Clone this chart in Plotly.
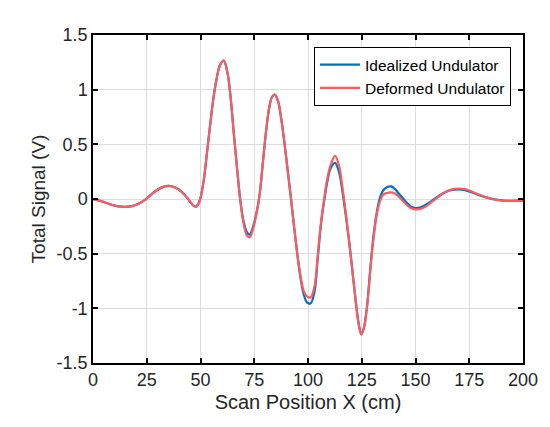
import plotly.graph_objects as go

# scan positions (cm)
scan_x = [0, 3, 6, 9, 12, 15, 18, 21, 24, 27, 30, 33, 35, 37, 40, 43, 45, 47, 48, 49,
          50, 51.5, 53, 54.5, 56, 57.5, 59, 60.8, 62.5, 64, 65.5, 67, 68.5, 70, 71.5, 72.9,
          74.5, 76, 77.5, 79, 80.5, 82, 83.3, 84.5, 86, 87.5, 89, 90.5, 92, 93.5, 95, 96.5,
          98, 99.5, 101.2, 103, 104.5, 106, 107.5, 109, 110.5, 112.6, 114.5, 116, 117.5, 119,
          120.5, 122, 123.5, 124.8, 126, 127.5, 129, 130.5, 132, 133.3, 135, 136.8, 138.7,
          140.5, 142, 144, 146, 148, 150, 152, 155, 158, 161, 164, 167, 170, 173, 176, 179,
          182, 185, 188, 191, 194, 197, 200]

# total signal (V)
idealized = [0.0, -0.015, -0.035, -0.055, -0.068, -0.072, -0.065, -0.045, -0.01, 0.04,
             0.085, 0.113, 0.12, 0.115, 0.085, 0.03, -0.02, -0.065, -0.068, -0.045,
             0.01, 0.17, 0.42, 0.68, 0.92, 1.1, 1.22, 1.265, 1.16, 0.93, 0.6, 0.28, -0.01,
             -0.2, -0.3, -0.325, -0.25, -0.13, 0.04, 0.33, 0.62, 0.84, 0.935, 0.955, 0.9,
             0.74, 0.52, 0.27, 0.02, -0.25, -0.5, -0.72, -0.87, -0.945, -0.955, -0.85, -0.55,
             -0.24, -0.02, 0.16, 0.28, 0.33, 0.24, 0.07, -0.14, -0.37, -0.63, -0.9, -1.13,
             -1.235, -1.18, -0.97, -0.63, -0.33, -0.12, 0.0, 0.08, 0.11, 0.115, 0.09, 0.055,
             0.01, -0.035, -0.07, -0.082, -0.078, -0.05, -0.01, 0.03, 0.063, 0.082, 0.088,
             0.08, 0.062, 0.04, 0.02, 0.003, -0.008, -0.014, -0.016, -0.015, -0.012]

deformed = [0.0, -0.015, -0.035, -0.055, -0.068, -0.072, -0.065, -0.045, -0.01, 0.04,
            0.085, 0.113, 0.12, 0.115, 0.085, 0.03, -0.02, -0.065, -0.068, -0.045,
            0.01, 0.17, 0.42, 0.68, 0.92, 1.1, 1.22, 1.265, 1.16, 0.93, 0.6, 0.28, -0.01,
            -0.22, -0.33, -0.35, -0.27, -0.14, 0.04, 0.33, 0.62, 0.84, 0.935, 0.955, 0.9,
            0.74, 0.52, 0.27, 0.02, -0.25, -0.5, -0.7, -0.84, -0.89, -0.9, -0.8, -0.52,
            -0.22, 0.0, 0.19, 0.31, 0.395, 0.3, 0.11, -0.11, -0.36, -0.63, -0.9, -1.14,
            -1.24, -1.18, -0.98, -0.65, -0.36, -0.14, -0.03, 0.04, 0.055, 0.06, 0.05, 0.025,
            -0.015, -0.055, -0.085, -0.095, -0.092, -0.065, -0.02, 0.025, 0.065, 0.088, 0.096,
            0.09, 0.07, 0.045, 0.022, 0.005, -0.008, -0.015, -0.018, -0.018, -0.015]

x_ticks = [0, 25, 50, 75, 100, 125, 150, 175, 200]
y_ticks = [-1.5, -1, -0.5, 0, 0.5, 1, 1.5]
y_tick_text = ["-1.5", "-1", "-0.5", "0", "0.5", "1", "1.5"]

font = "Arial, Liberation Sans, Helvetica, sans-serif"

fig = go.Figure()
fig.add_trace(go.Scatter(x=scan_x, y=idealized, mode="lines", name="Idealized Undulator",
                         line=dict(color="#0072BD", width=2.2, shape="spline", smoothing=1)))
fig.add_trace(go.Scatter(x=scan_x, y=deformed, mode="lines", name="Deformed Undulator",
                         line=dict(color="#FF5A5F", width=2.2, shape="spline", smoothing=1)))

axis_style = dict(
    showline=True, linecolor="black", linewidth=1.5, mirror="ticks",
    ticks="inside", ticklen=5, tickwidth=1.5, tickcolor="black",
    showgrid=True, gridcolor="#DDDDDD", gridwidth=1, zeroline=False,
    tickfont=dict(family=font, size=18, color="#262626"),
)

fig.update_xaxes(range=[0, 200], tickvals=x_ticks,
                 title=dict(text="Scan Position X (cm)", standoff=6,
                            font=dict(family=font, size=20, color="#262626")),
                 **axis_style)
fig.update_yaxes(range=[-1.5, 1.5], tickvals=y_ticks, ticktext=y_tick_text,
                 title=dict(text="Total Signal (V)", standoff=6,
                            font=dict(family=font, size=19, color="#262626")),
                 **axis_style)

fig.update_layout(
    width=550, height=427,
    margin=dict(l=85, r=35, t=27, b=72),
    paper_bgcolor="white", plot_bgcolor="white",
    showlegend=True,
    legend=dict(x=0.972, y=0.963, xanchor="right", yanchor="top",
                bgcolor="white", bordercolor="black", borderwidth=1,
                font=dict(family=font, size=15.5, color="black"),
                tracegroupgap=0, itemwidth=40),
)

fig.write_html("out.html")
